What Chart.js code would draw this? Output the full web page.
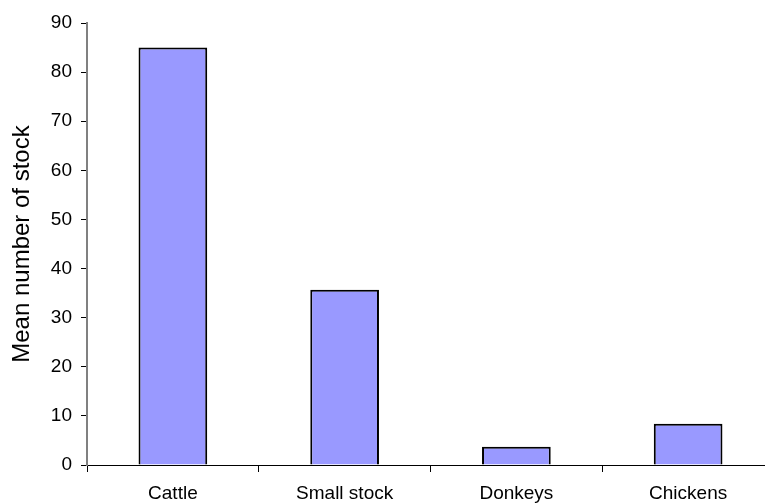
<!DOCTYPE html>
<html>
<head>
<meta charset="utf-8">
<script src="https://cdn.jsdelivr.net/npm/chart.js@4"></script>
<style>
  html, body { margin: 0; padding: 0; background: #fff; overflow: hidden; }
  #wrap { width: 775px; height: 504px; }
</style>
</head>
<body>
<div id="wrap"><canvas id="c" width="775" height="504"></canvas></div>
<script>
// Livestock holdings per household
const categories = ['Cattle', 'Small stock', 'Donkeys', 'Chickens'];
const meanStock = [85, 35.7, 3.7, 8.4];
const yTicks = [0, 10, 20, 30, 40, 50, 60, 70, 80, 90];

const FONT = "'Liberation Sans', Arial, sans-serif";

new Chart(document.getElementById('c'), {
  type: 'bar',
  data: {
    labels: categories,
    datasets: [{
      data: meanStock,
      backgroundColor: '#9999FF',
      borderColor: '#000000',
      borderWidth: 2,
      barPercentage: 0.4,
      categoryPercentage: 1.0
    }]
  },
  options: {
    responsive: false,
    animation: false,
    devicePixelRatio: 1,
    layout: { padding: { top: 23, right: 1, bottom: 0, left: 0 } },
    plugins: { legend: { display: false }, tooltip: { enabled: false } },
    scales: {
      x: {
        grid: {
          drawOnChartArea: false,
          drawTicks: true,
          tickLength: 7,
          tickColor: '#000',
          offset: true
        },
        border: { color: '#000', width: 1 },
        ticks: {
          color: '#000',
          font: { family: FONT, size: 19 },
          padding: 10,
          maxRotation: 0
        },
        afterFit: (s) => { s.height = 39; }
      },
      y: {
        min: 0,
        max: 90,
        afterBuildTicks: (s) => { s.ticks = yTicks.map(v => ({ value: v })); },
        grid: {
          drawOnChartArea: false,
          drawTicks: true,
          tickLength: 6,
          tickColor: '#000'
        },
        border: { color: '#808080', width: 2 },
        ticks: {
          color: '#000',
          font: { family: FONT, size: 19 },
          padding: 9
        },
        title: {
          display: true,
          text: 'Mean number of stock',
          color: '#000',
          font: { family: FONT, size: 24 },
          padding: { top: 8, bottom: 0 }
        },
        afterFit: (s) => { s.width = 87; }
      }
    }
  }
});
</script>
</body>
</html>
